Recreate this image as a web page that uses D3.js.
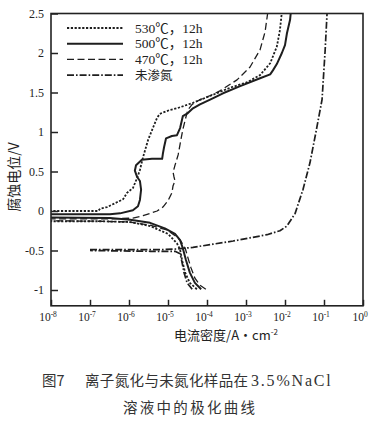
<!DOCTYPE html>
<html>
<head>
<meta charset="utf-8">
<script src="https://cdn.jsdelivr.net/npm/d3@7"></script>
<style>
    body { margin: 0; background: #fff; }
    svg text { fill: #222; }
</style>
</head>
<body>
<svg id="chart" width="377" height="421"></svg>
<script>
// tick values
var xTicks = [1e-8, 1e-7, 1e-6, 1e-5, 1e-4, 1e-3, 1e-2, 1e-1, 1];
var yTicks = [-1, -0.5, 0, 0.5, 1, 1.5, 2, 2.5];

var seriesNames = ["530℃，12h", "500℃，12h", "470℃，12h", "未渗氮"];

// [log10 of current density (A/cm2), potential (V)]
// cathodic branch from -1 V to the left edge, then anodic branch up to 2.5 V
var s530 = [
    [-4.26, -0.99], [-4.44, -0.91], [-4.56, -0.78], [-4.64, -0.62], [-4.69, -0.49],
    [-4.77, -0.41], [-5.0, -0.29], [-5.46, -0.19], [-5.97, -0.14], [-6.74, -0.13],
    [-8.8, -0.13], [-8.8, 0.0],
    [-6.79, 0.0], [-6.74, 0.03], [-6.56, 0.05], [-6.31, 0.11], [-6.15, 0.15],
    [-6.05, 0.23], [-5.90, 0.29], [-5.79, 0.42], [-5.72, 0.52], [-5.64, 0.68],
    [-5.51, 0.90], [-5.38, 1.06], [-5.28, 1.18], [-5.21, 1.23], [-4.95, 1.28],
    [-4.77, 1.30], [-4.36, 1.37], [-3.85, 1.47], [-3.41, 1.56], [-2.97, 1.63],
    [-2.64, 1.72], [-2.38, 1.87], [-2.21, 2.08], [-2.13, 2.29], [-2.08, 2.52]
];
var s500 = [
    [-4.15, -0.99], [-4.31, -0.91], [-4.44, -0.78], [-4.54, -0.62], [-4.62, -0.47],
    [-4.69, -0.37], [-4.82, -0.29], [-5.08, -0.22], [-5.46, -0.15], [-5.97, -0.11],
    [-6.49, -0.09], [-8.8, -0.08], [-8.8, -0.04],
    [-6.49, -0.04], [-6.23, -0.03], [-5.90, 0.01], [-5.77, 0.06], [-5.72, 0.14],
    [-5.69, 0.27], [-5.72, 0.38], [-5.79, 0.43], [-5.85, 0.51], [-5.82, 0.58],
    [-5.67, 0.65], [-5.41, 0.66], [-5.15, 0.66], [-5.13, 0.73], [-5.10, 0.81],
    [-5.05, 0.92], [-4.90, 0.95], [-4.77, 0.96], [-4.69, 1.05], [-4.62, 1.20],
    [-4.49, 1.24], [-4.36, 1.30], [-4.18, 1.35], [-3.92, 1.41], [-3.59, 1.49],
    [-3.15, 1.58], [-2.64, 1.68], [-2.38, 1.73], [-2.31, 1.78], [-2.21, 1.86],
    [-2.08, 2.0], [-2.0, 2.10], [-1.95, 2.25], [-1.87, 2.42], [-1.85, 2.52]
];
var s470 = [
    [-4.03, -0.99], [-4.18, -0.94], [-4.31, -0.85], [-4.41, -0.72], [-4.49, -0.59],
    [-4.56, -0.47], [-4.67, -0.38], [-4.77, -0.33], [-5.03, -0.24], [-5.46, -0.18],
    [-5.97, -0.14], [-6.74, -0.13], [-8.8, -0.12], [-8.8, -0.10],
    [-6.49, -0.10], [-5.90, -0.09], [-5.64, -0.06], [-5.46, -0.03], [-5.28, 0.0],
    [-5.13, 0.05], [-5.0, 0.13], [-4.90, 0.23], [-4.87, 0.32], [-4.82, 0.38],
    [-4.85, 0.44], [-4.87, 0.49], [-4.82, 0.58], [-4.74, 0.71], [-4.67, 0.90],
    [-4.62, 1.03], [-4.54, 1.19], [-4.49, 1.28], [-4.38, 1.35], [-4.18, 1.41],
    [-3.92, 1.46], [-3.67, 1.52], [-3.23, 1.66], [-2.90, 1.82], [-2.64, 2.04],
    [-2.51, 2.27], [-2.44, 2.52]
];
var bareCathodic = [
    [-4.38, -0.99], [-4.51, -0.91], [-4.59, -0.78], [-4.64, -0.65], [-4.69, -0.54],
    [-4.82, -0.51], [-5.46, -0.51], [-7.0, -0.50]
];
var bareAnodic = [
    [-7.0, -0.49], [-5.97, -0.49], [-5.21, -0.49], [-4.74, -0.48], [-4.36, -0.46],
    [-3.85, -0.42], [-3.33, -0.38], [-2.90, -0.34], [-2.46, -0.30], [-2.13, -0.25],
    [-1.95, -0.19], [-1.74, -0.03], [-1.54, 0.27], [-1.36, 0.61], [-1.21, 0.99],
    [-1.05, 1.41], [-0.97, 2.04], [-0.92, 2.52]
];

var serif = "'Liberation Serif', 'Noto Sans CJK SC', serif";
var cjk = "'Noto Sans CJK SC', sans-serif";

var plotLeft = 51, plotRight = 363, plotTop = 13.5, plotBottom = 305.8;

var svg = d3.select("#chart");

var x = d3.scaleLog().domain([1e-8, 1]).range([plotLeft, plotRight]);
var y = d3.scaleLinear().domain([-1.2, 2.5]).range([plotBottom, plotTop]);

svg.append("defs").append("clipPath").attr("id", "plot-clip")
    .append("rect")
    .attr("x", plotLeft).attr("y", plotTop)
    .attr("width", plotRight - plotLeft).attr("height", plotBottom - plotTop);

// line styles for the four curves
var styles = [
    {dash: "2.2,1.6", width: 1.8},
    {dash: null, width: 2},
    {dash: "7,3.5", width: 1.3},
    {dash: "7,2,1.6,2", width: 1.7}
];

var line = d3.line()
    .x(function (d) { return x(Math.pow(10, d[0])); })
    .y(function (d) { return y(d[1]); });

var curves = [[s530], [s500], [s470], [bareCathodic, bareAnodic]];

var plot = svg.append("g").attr("clip-path", "url(#plot-clip)");
curves.forEach(function (parts, i) {
    parts.forEach(function (pts) {
        plot.append("path")
            .attr("d", line(pts))
            .attr("fill", "none")
            .attr("stroke", "#1e1e1e")
            .attr("stroke-width", styles[i].width)
            .attr("stroke-dasharray", styles[i].dash)
            .attr("stroke-linejoin", "round");
    });
});

// y axis, ticks pointing inward
var yAxis = d3.axisRight(y).tickValues(yTicks).tickSize(7).tickFormat("");
svg.append("g").attr("transform", "translate(" + plotLeft + ",0)").call(yAxis)
    .call(function (g) {
        g.select(".domain").remove();
        g.selectAll("line").attr("stroke", "#222").attr("stroke-width", 1.5);
    });
svg.append("g").selectAll("text").data(yTicks).enter().append("text")
    .attr("x", plotLeft - 7)
    .attr("y", function (d) { return y(d) + 4; })
    .attr("text-anchor", "end")
    .style("font-family", serif)
    .style("font-size", "12px")
    .text(function (d) { return d; });

// x axis, ticks pointing inward
var xAxis = d3.axisTop(x).tickValues(xTicks).tickSize(6).tickFormat("");
svg.append("g").attr("transform", "translate(0," + plotBottom + ")").call(xAxis)
    .call(function (g) {
        g.select(".domain").remove();
        g.selectAll("line").attr("stroke", "#222").attr("stroke-width", 1.5);
    });
var xl = svg.append("g").selectAll("text").data(xTicks).enter().append("text")
    .attr("x", function (d) { return x(d) - 3; })
    .attr("y", plotBottom + 15)
    .attr("text-anchor", "middle")
    .style("font-family", serif)
    .style("font-size", "11.5px");
xl.append("tspan").text("10");
xl.append("tspan")
    .attr("dy", -4)
    .style("font-size", "7.5px")
    .text(function (d) { return d === 1 ? "0" : "-" + Math.round(-Math.log10(d)); });

// frame
svg.append("rect")
    .attr("x", plotLeft).attr("y", plotTop)
    .attr("width", plotRight - plotLeft).attr("height", plotBottom - plotTop)
    .attr("fill", "none").attr("stroke", "#222").attr("stroke-width", 1.6);

// legend
var legend = svg.append("g");
seriesNames.forEach(function (name, i) {
    var ly = 28 + i * 15.7;
    legend.append("line")
        .attr("x1", 67).attr("x2", 123)
        .attr("y1", ly).attr("y2", ly)
        .attr("stroke", "#1e1e1e")
        .attr("stroke-width", styles[i].width)
        .attr("stroke-dasharray", styles[i].dash);
    legend.append("text")
        .attr("x", 135).attr("y", ly + 4.5)
        .style("font-family", i === 3 ? cjk : serif)
        .style("font-size", i === 3 ? "12.5px" : "13.5px")
        .text(name);
});

// axis titles
var xt = svg.append("text")
    .attr("x", 226).attr("y", 340)
    .attr("text-anchor", "middle")
    .style("font-family", cjk)
    .style("font-size", "13px");
xt.append("tspan").text("电流密度/A·cm");
xt.append("tspan").attr("dy", -5).style("font-size", "8px").text("-2");

svg.append("text")
    .attr("transform", "translate(19,177) rotate(-90)")
    .attr("text-anchor", "middle")
    .style("font-family", cjk)
    .style("font-size", "14px")
    .text("腐蚀电位/V");

// caption
var cap = svg.append("g").style("font-family", cjk).style("font-size", "14.5px");
cap.append("text").attr("x", 42).attr("y", 386).style("fill", "#333").text("图7");
cap.append("text").attr("x", 85).attr("y", 386).attr("textLength", 163).style("fill", "#333")
    .text("离子氮化与未氮化样品在");
cap.append("text").attr("x", 251).attr("y", 386).style("fill", "#333")
    .style("font-family", serif).style("font-size", "16px").style("letter-spacing", "1.8px")
    .text("3.5%NaCl");
cap.append("text").attr("x", 123).attr("y", 413).attr("textLength", 132).style("fill", "#333")
    .text("溶液中的极化曲线");
</script>
</body>
</html>
